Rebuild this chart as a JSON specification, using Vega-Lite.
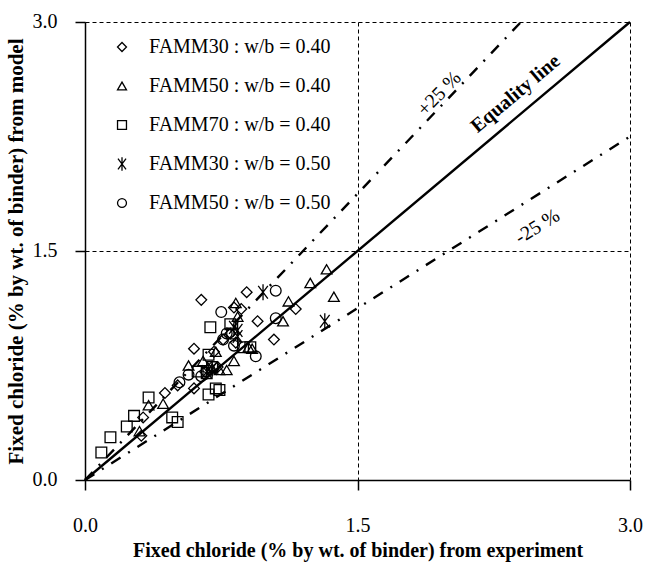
{
  "$schema": "https://vega.github.io/schema/vega-lite/v6.json",
  "width": 545,
  "height": 458,
  "autosize": {"type": "none"},
  "padding": {"left": 85, "top": 22, "right": 16, "bottom": 87},
  "background": "white",
  "config": {
    "view": {"stroke": null},
    "font": "Liberation Serif"
  },
  "datasets": {
    "points": [
      {"series": "FAMM30 : w/b = 0.40", "x": 0.64, "y": 1.18},
      {"series": "FAMM30 : w/b = 0.40", "x": 0.89, "y": 1.23},
      {"series": "FAMM30 : w/b = 0.40", "x": 0.82, "y": 1.13},
      {"series": "FAMM30 : w/b = 0.40", "x": 0.86, "y": 1.12},
      {"series": "FAMM30 : w/b = 0.40", "x": 1.16, "y": 1.12},
      {"series": "FAMM30 : w/b = 0.40", "x": 0.95, "y": 1.04},
      {"series": "FAMM30 : w/b = 0.40", "x": 1.04, "y": 0.92},
      {"series": "FAMM30 : w/b = 0.40", "x": 0.80, "y": 0.96},
      {"series": "FAMM30 : w/b = 0.40", "x": 0.76, "y": 0.92},
      {"series": "FAMM30 : w/b = 0.40", "x": 0.60, "y": 0.86},
      {"series": "FAMM30 : w/b = 0.40", "x": 0.71, "y": 0.84},
      {"series": "FAMM30 : w/b = 0.40", "x": 0.83, "y": 0.90},
      {"series": "FAMM30 : w/b = 0.40", "x": 0.51, "y": 0.62},
      {"series": "FAMM30 : w/b = 0.40", "x": 0.60, "y": 0.60},
      {"series": "FAMM30 : w/b = 0.40", "x": 0.44, "y": 0.57},
      {"series": "FAMM30 : w/b = 0.40", "x": 0.32, "y": 0.41},
      {"series": "FAMM30 : w/b = 0.40", "x": 0.31, "y": 0.29},
      {"series": "FAMM30 : w/b = 0.40", "x": 0.66, "y": 0.71},
      {"series": "FAMM30 : w/b = 0.40", "x": 0.73, "y": 0.74},
      {"series": "FAMM50 : w/b = 0.40", "x": 1.33, "y": 1.38},
      {"series": "FAMM50 : w/b = 0.40", "x": 1.24, "y": 1.29},
      {"series": "FAMM50 : w/b = 0.40", "x": 1.37, "y": 1.20},
      {"series": "FAMM50 : w/b = 0.40", "x": 1.12, "y": 1.17},
      {"series": "FAMM50 : w/b = 0.40", "x": 1.09, "y": 1.04},
      {"series": "FAMM50 : w/b = 0.40", "x": 0.83, "y": 1.16},
      {"series": "FAMM50 : w/b = 0.40", "x": 0.84, "y": 1.07},
      {"series": "FAMM50 : w/b = 0.40", "x": 0.90, "y": 0.87},
      {"series": "FAMM50 : w/b = 0.40", "x": 0.92, "y": 0.86},
      {"series": "FAMM50 : w/b = 0.40", "x": 0.82, "y": 0.78},
      {"series": "FAMM50 : w/b = 0.40", "x": 0.72, "y": 0.84},
      {"series": "FAMM50 : w/b = 0.40", "x": 0.57, "y": 0.75},
      {"series": "FAMM50 : w/b = 0.40", "x": 0.65, "y": 0.78},
      {"series": "FAMM50 : w/b = 0.40", "x": 0.70, "y": 0.73},
      {"series": "FAMM50 : w/b = 0.40", "x": 0.74, "y": 0.72},
      {"series": "FAMM50 : w/b = 0.40", "x": 0.78, "y": 0.72},
      {"series": "FAMM50 : w/b = 0.40", "x": 0.35, "y": 0.49},
      {"series": "FAMM50 : w/b = 0.40", "x": 0.43, "y": 0.50},
      {"series": "FAMM50 : w/b = 0.40", "x": 0.30, "y": 0.32},
      {"series": "FAMM70 : w/b = 0.40", "x": 0.69, "y": 1.00},
      {"series": "FAMM70 : w/b = 0.40", "x": 0.80, "y": 1.02},
      {"series": "FAMM70 : w/b = 0.40", "x": 0.81, "y": 0.96},
      {"series": "FAMM70 : w/b = 0.40", "x": 0.87, "y": 0.87},
      {"series": "FAMM70 : w/b = 0.40", "x": 0.91, "y": 0.87},
      {"series": "FAMM70 : w/b = 0.40", "x": 0.68, "y": 0.82},
      {"series": "FAMM70 : w/b = 0.40", "x": 0.62, "y": 0.71},
      {"series": "FAMM70 : w/b = 0.40", "x": 0.67, "y": 0.70},
      {"series": "FAMM70 : w/b = 0.40", "x": 0.70, "y": 0.74},
      {"series": "FAMM70 : w/b = 0.40", "x": 0.72, "y": 0.60},
      {"series": "FAMM70 : w/b = 0.40", "x": 0.74, "y": 0.59},
      {"series": "FAMM70 : w/b = 0.40", "x": 0.68, "y": 0.56},
      {"series": "FAMM70 : w/b = 0.40", "x": 0.35, "y": 0.54},
      {"series": "FAMM70 : w/b = 0.40", "x": 0.27, "y": 0.42},
      {"series": "FAMM70 : w/b = 0.40", "x": 0.48, "y": 0.41},
      {"series": "FAMM70 : w/b = 0.40", "x": 0.51, "y": 0.38},
      {"series": "FAMM70 : w/b = 0.40", "x": 0.23, "y": 0.35},
      {"series": "FAMM70 : w/b = 0.40", "x": 0.14, "y": 0.28},
      {"series": "FAMM70 : w/b = 0.40", "x": 0.09, "y": 0.18},
      {"series": "FAMM30 : w/b = 0.50", "x": 0.98, "y": 1.23},
      {"series": "FAMM30 : w/b = 0.50", "x": 1.32, "y": 1.04},
      {"series": "FAMM30 : w/b = 0.50", "x": 0.82, "y": 1.00},
      {"series": "FAMM30 : w/b = 0.50", "x": 0.84, "y": 0.98},
      {"series": "FAMM30 : w/b = 0.50", "x": 0.84, "y": 0.94},
      {"series": "FAMM30 : w/b = 0.50", "x": 0.70, "y": 0.73},
      {"series": "FAMM30 : w/b = 0.50", "x": 0.67, "y": 0.71},
      {"series": "FAMM50 : w/b = 0.50", "x": 1.05, "y": 1.24},
      {"series": "FAMM50 : w/b = 0.50", "x": 0.75, "y": 1.10},
      {"series": "FAMM50 : w/b = 0.50", "x": 1.05, "y": 1.06},
      {"series": "FAMM50 : w/b = 0.50", "x": 0.76, "y": 0.92},
      {"series": "FAMM50 : w/b = 0.50", "x": 0.82, "y": 0.88},
      {"series": "FAMM50 : w/b = 0.50", "x": 0.94, "y": 0.81},
      {"series": "FAMM50 : w/b = 0.50", "x": 0.57, "y": 0.69},
      {"series": "FAMM50 : w/b = 0.50", "x": 0.52, "y": 0.64},
      {"series": "FAMM50 : w/b = 0.50", "x": 0.64, "y": 0.68},
      {"series": "FAMM50 : w/b = 0.50", "x": 0.78, "y": 0.96},
      {"series": "FAMM50 : w/b = 0.50", "x": 0.71, "y": 0.74}
    ],
    "lines": [
      {"line": "equality", "x": 0, "y": 0},
      {"line": "equality", "x": 3, "y": 3},
      {"line": "plus25", "x": 0, "y": 0},
      {"line": "plus25", "x": 2.4, "y": 3},
      {"line": "minus25", "x": 0, "y": 0},
      {"line": "minus25", "x": 3, "y": 2.25}
    ]
  },
  "encoding": {
    "x": {
      "field": "x",
      "type": "quantitative",
      "scale": {"domain": [0, 3], "nice": false, "zero": true},
      "axis": {
        "title": "Fixed chloride  (% by wt. of binder) from experiment",
        "titleFont": "Liberation Serif",
        "titleFontWeight": "bold",
        "titleFontSize": 20,
        "titleColor": "black",
        "titlePadding": 5,
        "values": [0, 1.5, 3],
        "format": ".1f",
        "labelFont": "Liberation Serif",
        "labelFontSize": 20,
        "labelColor": "black",
        "labelPadding": 25,
        "labelFlush": false,
        "labelOverlap": false,
        "labelBound": false,
        "tickSize": 10,
        "tickColor": "black",
        "tickWidth": 1.5,
        "domainColor": "black",
        "domainWidth": 1.5,
        "grid": true,
        "gridColor": "black",
        "gridOpacity": 1,
        "gridWidth": 1,
        "gridDash": [4, 3]
      }
    },
    "y": {
      "field": "y",
      "type": "quantitative",
      "scale": {"domain": [0, 3], "nice": false, "zero": true},
      "axis": {
        "title": "Fixed chloride  (% by wt. of binder) from model",
        "titleFont": "Liberation Serif",
        "titleFontWeight": "bold",
        "titleFontSize": 21,
        "titleColor": "black",
        "titlePadding": 6,
        "values": [0, 1.5, 3],
        "format": ".1f",
        "labelFont": "Liberation Serif",
        "labelFontSize": 20,
        "labelColor": "black",
        "labelPadding": 18,
        "labelOffset": -1,
        "labelFlush": false,
        "labelOverlap": false,
        "labelBound": false,
        "tickSize": 10,
        "tickColor": "black",
        "tickWidth": 1.5,
        "domainColor": "black",
        "domainWidth": 1.5,
        "grid": true,
        "gridColor": "black",
        "gridOpacity": 1,
        "gridWidth": 1,
        "gridDash": [4, 3]
      }
    }
  },
  "layer": [
    {
      "data": {"name": "lines"},
      "transform": [{"filter": "datum.line === 'equality'"}],
      "mark": {"type": "line", "color": "black", "strokeWidth": 2.4},
      "encoding": {}
    },
    {
      "data": {"name": "lines"},
      "transform": [{"filter": "datum.line === 'plus25'"}],
      "mark": {"type": "line", "color": "black", "strokeWidth": 2.4, "strokeDash": [11, 9, 2, 9]},
      "encoding": {}
    },
    {
      "data": {"name": "lines"},
      "transform": [{"filter": "datum.line === 'minus25'"}],
      "mark": {"type": "line", "color": "black", "strokeWidth": 2.4, "strokeDash": [11, 9, 2, 9]},
      "encoding": {}
    },
    {
      "data": {"name": "points"},
      "mark": {"type": "point", "filled": false, "color": "black", "strokeWidth": 1.3, "size": 115, "opacity": 1},
      "encoding": {
        "shape": {
          "field": "series",
          "type": "nominal",
          "scale": {
            "domain": ["FAMM30 : w/b = 0.40", "FAMM50 : w/b = 0.40", "FAMM70 : w/b = 0.40", "FAMM30 : w/b = 0.50", "FAMM50 : w/b = 0.50"],
            "range": ["diamond", "triangle-up", "square", "M0,-1.5L0,1.5M-0.9,-1.2L0.9,1.2M-0.9,1.2L0.9,-1.2", "circle"]
          },
          "legend": {
            "title": null,
            "orient": "none",
            "legendX": 27,
            "legendY": 15,
            "padding": 0,
            "symbolSize": 80,
            "symbolStrokeColor": "black",
            "symbolFillColor": "transparent",
            "symbolStrokeWidth": 1.3,
            "labelFont": "Liberation Serif",
            "labelFontSize": 20,
            "labelColor": "black",
            "labelOffset": 17,
            "labelLimit": 400,
            "rowPadding": 19
          }
        }
      }
    },
    {
      "data": {"values": [{"x": 2.37, "y": 2.53, "label": "Equality line"}]},
      "mark": {"type": "text", "angle": -40, "font": "Liberation Serif", "fontWeight": "bold", "fontSize": 20, "color": "black"},
      "encoding": {"text": {"field": "label"}}
    },
    {
      "data": {"values": [{"x": 1.95, "y": 2.53, "label": "+25 %"}]},
      "mark": {"type": "text", "angle": -46, "font": "Liberation Serif", "fontSize": 20, "color": "black"},
      "encoding": {"text": {"field": "label"}}
    },
    {
      "data": {"values": [{"x": 2.49, "y": 1.66, "label": "-25 %"}]},
      "mark": {"type": "text", "angle": -32, "font": "Liberation Serif", "fontSize": 20, "color": "black"},
      "encoding": {"text": {"field": "label"}}
    }
  ]
}
